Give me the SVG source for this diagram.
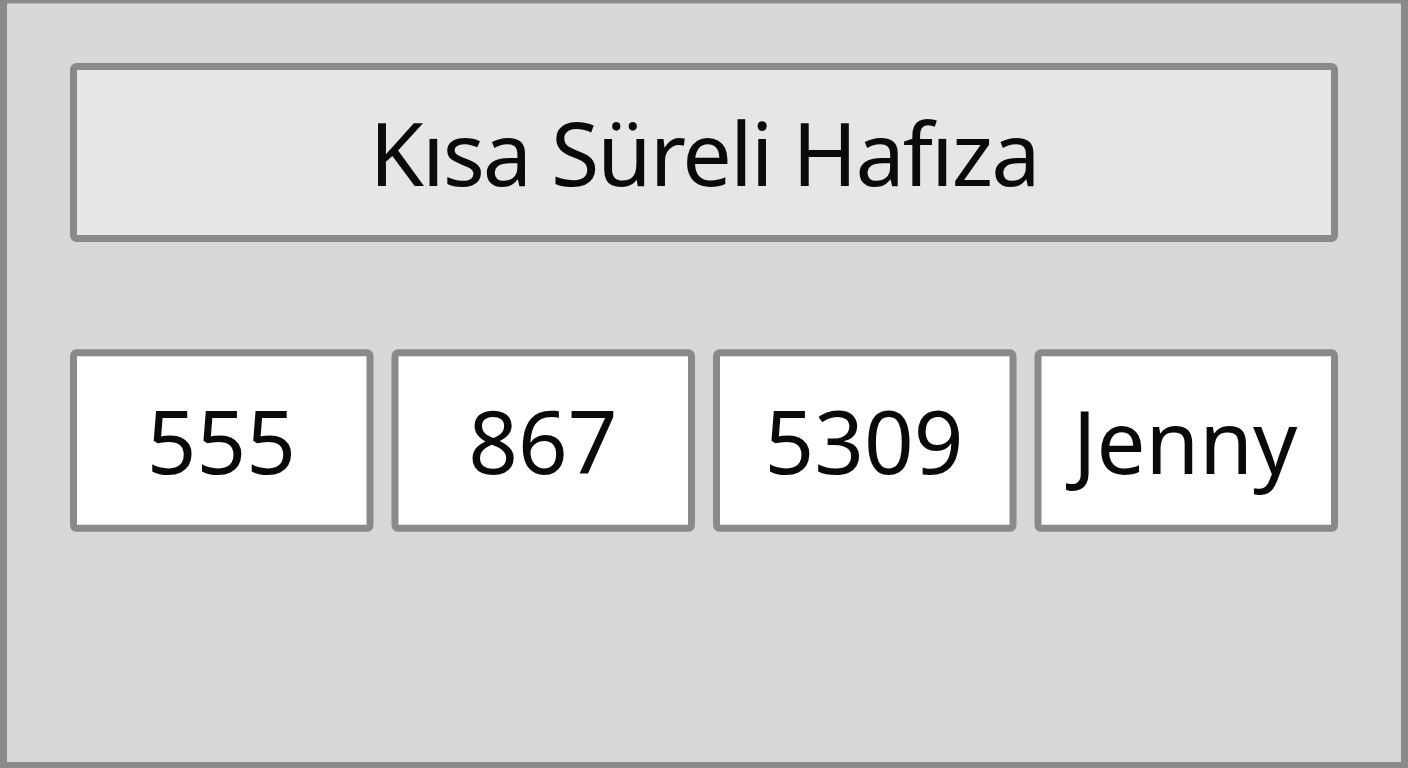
<svg xmlns="http://www.w3.org/2000/svg" width="1408" height="768" viewBox="0 0 1408 768">
  <style>
    .frame { fill: #d8d8d8; stroke: #8a8a8a; stroke-width: 7; }
    .title-box { fill: #e6e6e6; stroke: #8a8a8a; stroke-width: 7; }
    .item-box { fill: #ffffff; stroke: #8a8a8a; stroke-width: 7; }
    .label { font-family: "Noto Sans", "Open Sans", sans-serif; fill: #0a0a0a; text-anchor: middle; }
    .title { font-size: 88px; letter-spacing: -2px; }
    .item { font-size: 87px; }
  </style>
  <g id="frame">
    <rect class="frame" x="3.5" y="0" width="1401" height="765.5"/>
  </g>
  <g id="title">
    <rect class="title-box" x="73.5" y="66.5" width="1261" height="172" rx="3"/>
    <text class="label title" x="704" y="186">Kısa Süreli Hafıza</text>
  </g>
  <g id="item-555">
    <rect class="item-box" x="73.5" y="352.8" width="296.5" height="175.5" rx="3"/>
    <text class="label item" x="221.5" y="474">555</text>
  </g>
  <g id="item-867">
    <rect class="item-box" x="395" y="352.8" width="296.5" height="175.5" rx="3"/>
    <text class="label item" x="543" y="474">867</text>
  </g>
  <g id="item-5309">
    <rect class="item-box" x="716.5" y="352.8" width="296.5" height="175.5" rx="3"/>
    <text class="label item" x="864" y="474">5309</text>
  </g>
  <g id="item-jenny">
    <rect class="item-box" x="1038" y="352.8" width="296.5" height="175.5" rx="3"/>
    <text class="label item" x="1185" y="474">Jenny</text>
  </g>
  <g id="connectors"/>
</svg>
